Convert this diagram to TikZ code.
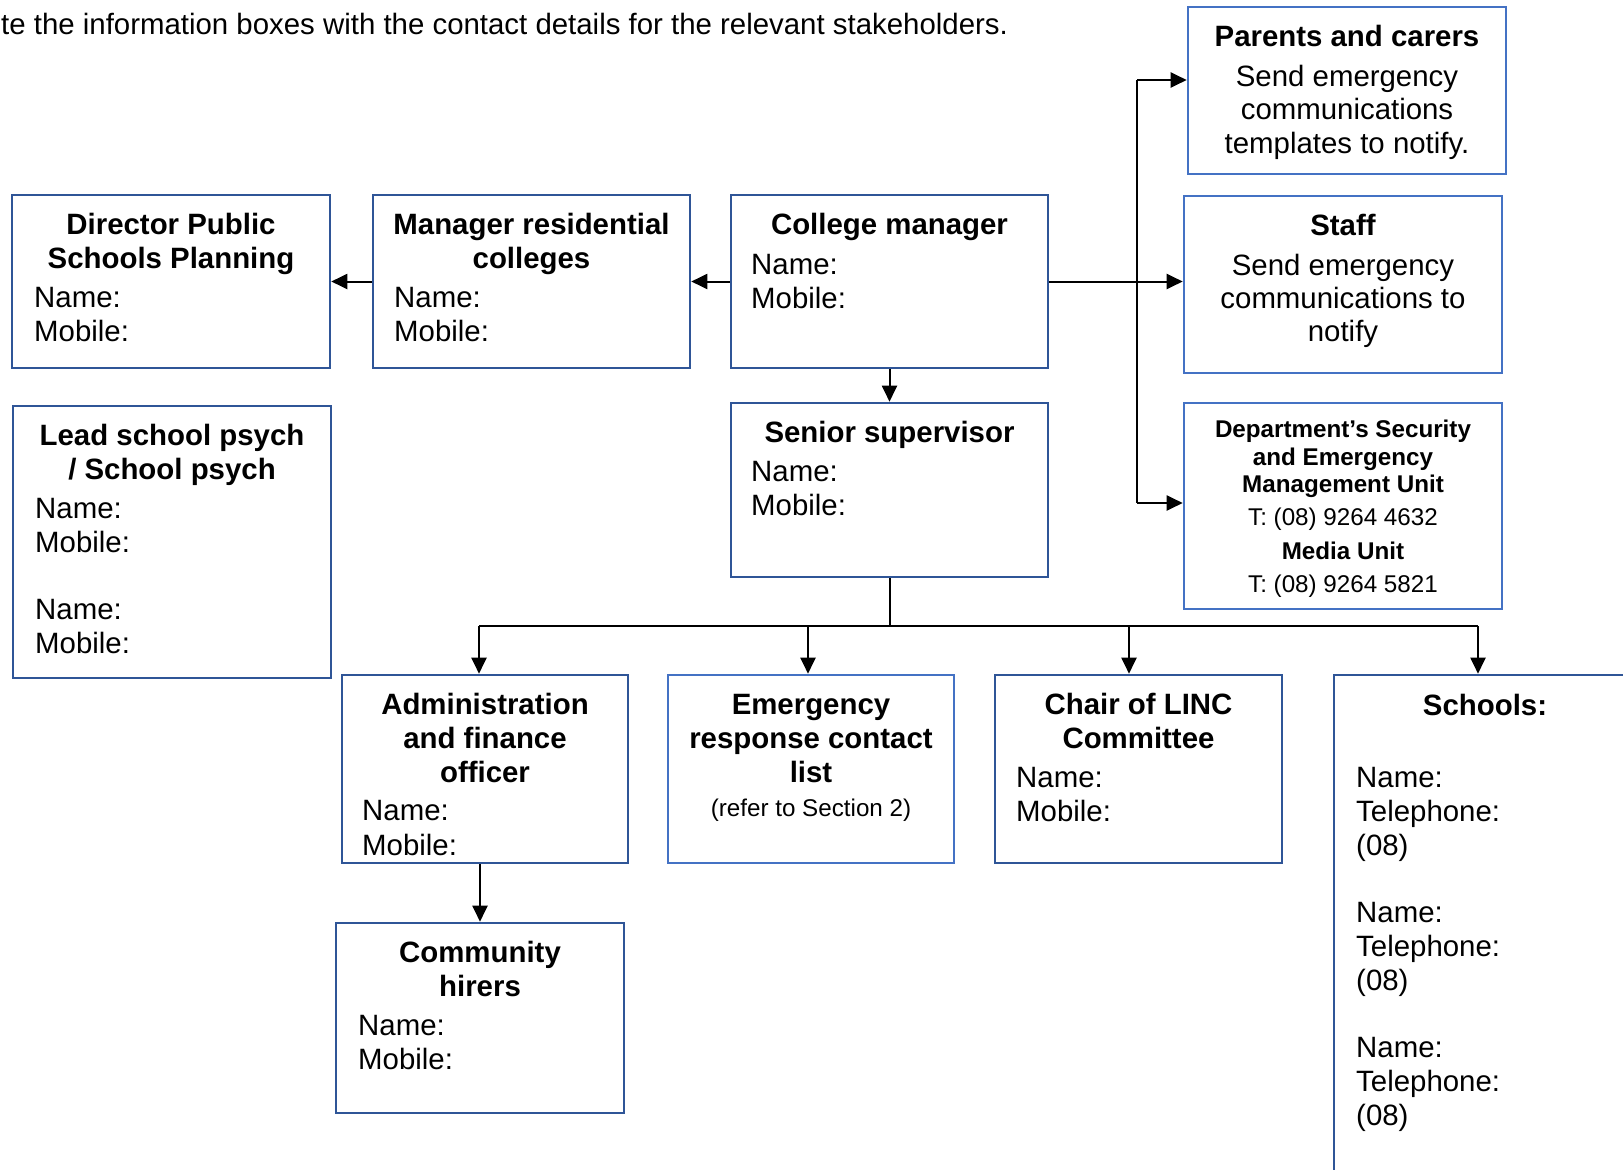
\documentclass[tikz,border=0pt]{standalone}
\usepackage{fontspec}
\setmainfont{Liberation Sans}
\usetikzlibrary{arrows.meta}
\definecolor{darkb}{RGB}{47,85,151}
\definecolor{lightb}{RGB}{68,114,196}
\tikzset{
 boxd/.style={draw=darkb, line width=2.6pt, inner sep=0pt},
 boxl/.style={draw=lightb, line width=2.6pt, inner sep=0pt},
 hd/.style={font=\fontsize{29.4}{34}\selectfont\bfseries, anchor=base, inner sep=0pt},
 tx/.style={font=\fontsize{29.4}{34}\selectfont, anchor=base west, inner sep=0pt},
 txc/.style={font=\fontsize{29.4}{34}\selectfont, anchor=base, inner sep=0pt},
 sm/.style={font=\fontsize{24.2}{28}\selectfont, anchor=base, inner sep=0pt},
 smb/.style={font=\fontsize{24.2}{28}\selectfont\bfseries, anchor=base, inner sep=0pt},
 conn/.style={line width=2pt, draw=black},
 arr/.style={conn, -{Triangle[length=16pt,width=15pt]}},
}
\begin{document}
\begin{tikzpicture}[x=1pt,y=-1pt]
\useasboundingbox (0,0) rectangle (1623,1170);
\fill[white] (0,0) rectangle (1623,1170);

% top text
\node[tx] (intro) at (1,34) {te the information boxes with the contact details for the relevant stakeholders.};

% boxes
\node[boxd, minimum width=318pt, minimum height=173pt] (dir) at (171,281.5) {};
\node[boxd, minimum width=317pt, minimum height=173pt] (man) at (531.5,281.5) {};
\node[boxd, minimum width=317pt, minimum height=173pt] (coll) at (889.5,281.5) {};
\node[boxd, minimum width=317pt, minimum height=174pt] (sen) at (889.5,490) {};
\node[boxd, minimum width=318pt, minimum height=272pt] (lead) at (172,542) {};
\node[boxl, minimum width=318pt, minimum height=167pt] (par) at (1347,90.5) {};
\node[boxl, minimum width=318pt, minimum height=177pt] (staff) at (1343,284.5) {};
\node[boxl, minimum width=318pt, minimum height=206pt] (dept) at (1343,506) {};
\node[boxd, minimum width=286pt, minimum height=188pt] (adm) at (485,769) {};
\node[boxl, minimum width=286pt, minimum height=188pt] (emer) at (811,769) {};
\node[boxd, minimum width=287pt, minimum height=188pt] (chair) at (1138.5,769) {};
\node[boxd, minimum width=366pt, minimum height=575pt] (sch) at (1517,962.5) {};
\node[boxd, minimum width=288pt, minimum height=190pt] (comm) at (480,1018) {};

% Director
\node[hd] (dirA) at (171,234) {Director Public};
\node[hd] (dirB) at (171,268) {Schools Planning};
\node[tx] (dirN) at (34,307) {Name:};
\node[tx] (dirM) at (34,341) {Mobile:};
% Manager
\node[hd] (manA) at (531.5,234) {Manager residential};
\node[hd] (manB) at (531.5,268) {colleges};
\node[tx] (manN) at (394,307) {Name:};
\node[tx] (manM) at (394,341) {Mobile:};
% College
\node[hd] (collA) at (889.5,234) {College manager};
\node[tx] (collN) at (751,274) {Name:};
\node[tx] (collM) at (751,308) {Mobile:};
% Senior
\node[hd] (senA) at (889.5,442) {Senior supervisor};
\node[tx] (senN) at (751,481) {Name:};
\node[tx] (senM) at (751,515) {Mobile:};
% Lead
\node[hd] (leadA) at (172,445) {Lead school psych};
\node[hd] (leadB) at (172,479) {/ School psych};
\node[tx] (leadN1) at (35,518) {Name:};
\node[tx] (leadM1) at (35,552) {Mobile:};
\node[tx] (leadN2) at (35,619) {Name:};
\node[tx] (leadM2) at (35,653) {Mobile:};
% Parents
\node[hd] (parA) at (1347,46) {Parents and carers};
\node[txc] (parB) at (1347,86) {Send emergency};
\node[txc] (parC) at (1347,119) {communications};
\node[txc] (parD) at (1347,153) {templates to notify.};
% Staff
\node[hd] (staffA) at (1343,235) {Staff};
\node[txc] (staffB) at (1343,275) {Send emergency};
\node[txc] (staffC) at (1343,308) {communications to};
\node[txc] (staffD) at (1343,341) {notify};
% Dept
\node[smb] (deptA) at (1343,437) {Department’s Security};
\node[smb] (deptB) at (1343,465) {and Emergency};
\node[smb] (deptC) at (1343,492) {Management Unit};
\node[sm] (deptD) at (1343,525) {T: (08) 9264 4632};
\node[smb] (deptE) at (1343,559) {Media Unit};
\node[sm] (deptF) at (1343,592) {T: (08) 9264 5821};
% Admin
\node[hd] (admA) at (485,714) {Administration};
\node[hd] (admB) at (485,748) {and finance};
\node[hd] (admC) at (485,782) {officer};
\node[tx] (admN) at (362,820) {Name:};
\node[tx] (admM) at (362,855) {Mobile:};
% Emergency
\node[hd] (emerA) at (811,714) {Emergency};
\node[hd] (emerB) at (811,748) {response contact};
\node[hd] (emerC) at (811,782) {list};
\node[sm] (emerD) at (811,816) {(refer to Section 2)};
% Chair
\node[hd] (chairA) at (1138.5,714) {Chair of LINC};
\node[hd] (chairB) at (1138.5,748) {Committee};
\node[tx] (chairN) at (1016,787) {Name:};
\node[tx] (chairM) at (1016,821) {Mobile:};
% Schools
\node[hd] (schA) at (1485,715) {Schools:};
\node[tx] (schN1) at (1356,787) {Name:};
\node[tx] (schT1) at (1356,821) {Telephone:};
\node[tx] (schP1) at (1356,855) {(08)};
\node[tx] (schN2) at (1356,922) {Name:};
\node[tx] (schT2) at (1356,956) {Telephone:};
\node[tx] (schP2) at (1356,990) {(08)};
\node[tx] (schN3) at (1356,1057) {Name:};
\node[tx] (schT3) at (1356,1091) {Telephone:};
\node[tx] (schP3) at (1356,1125) {(08)};
% Community
\node[hd] (commA) at (480,962) {Community};
\node[hd] (commB) at (480,996) {hirers};
\node[tx] (commN) at (358,1035) {Name:};
\node[tx] (commM) at (358,1069) {Mobile:};

% connectors
\draw[arr] (coll.west) -- (man.east);
\draw[arr] (man.west) -- (dir.east);
\draw[arr] (coll.east) -- (coll.east -| staff.west);
\coordinate (sp1) at (1137,80);
\coordinate (sp2) at (1137,503);
\draw[conn] (sp1) -- (sp2);
\draw[arr] (sp1) -- (sp1 -| par.west);
\draw[arr] (sp2) -- (sp2 -| dept.west);
\draw[arr] (coll.south) -- (sen.north);
\coordinate (b1) at (479,626);
\coordinate (b2) at (808,626);
\coordinate (b3) at (1129,626);
\coordinate (b4) at (1478,626);
\draw[conn] (sen.south) -- (sen.south |- b1);
\draw[conn] (b1) -- (b4);
\draw[arr] (b1) -- (b1 |- adm.north);
\draw[arr] (b2) -- (b2 |- emer.north);
\draw[arr] (b3) -- (b3 |- chair.north);
\draw[arr] (b4) -- (b4 |- sch.north);
\draw[arr] (comm.north |- adm.south) -- (comm.north);
\end{tikzpicture}
\end{document}
